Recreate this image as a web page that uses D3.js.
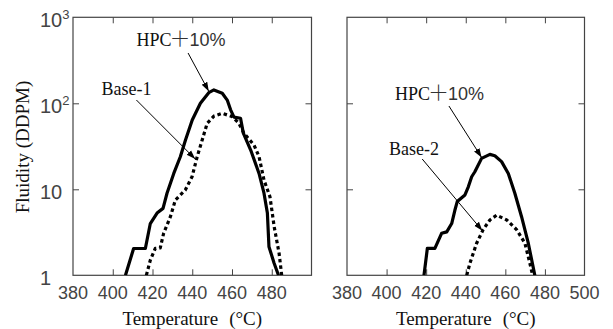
<!DOCTYPE html>
<html><head><meta charset="utf-8">
<script src="https://cdn.jsdelivr.net/npm/d3@7"></script>
<style>body{margin:0;background:#fff}svg{display:block}</style>
</head><body>
<svg id="c" width="613" height="329"></svg>
<script>
// Panel 1 (left): HPC+10% and Base-1
const hpc1T = [406.4,410.5,416.4,418.9,422.3,425.3,427.3,430.7,434,436.6,440,444.1,448.3,450.9,455.1,457.6,459.3,461,464.3,465.7,469.4,473.6,476.1,477.8,478.6,481.2,483.4];
const hpc1F = [1,2.05,2.05,4.0,5.3,6.0,9.0,15.3,23.9,37.4,64,100,133,143,131,109,84,69,67,45,28.6,15.3,9.0,5.3,2.15,1.38,1];
const base1T = [416.9,418.9,421.4,423.9,425.6,429,431.5,436.5,439.9,442.5,445,447.5,450.9,455.1,460.2,463.5,466,471.1,473.6,476.1,479.1,481.2,483.7,485];
const base1F = [1,1.5,2.06,2.08,3.08,4.8,7.5,9.8,14,24,37.4,58.5,71,76.5,69.8,58.5,44.8,32.7,24,12.8,8.2,3.7,1.8,1];
// Panel 2 (right): HPC+10% and Base-2
const hpc2T = [418.9,420.6,424.4,427.8,430.4,432.9,434.5,435.7,439.6,441.3,443,444.6,448,452.2,454.7,458.1,461.5,464.8,468.2,471.6,474.9];
const hpc2F = [1,2.06,2.06,3.08,3.2,4.0,5.7,7.2,8.6,10.7,14,16,22.9,25.5,24.6,21,15.3,9.0,4.8,2.36,1];
const base2T = [440.5,442.1,445.5,448.8,452.2,455.6,460.7,465.7,469.9,472.4,473.8];
const base2F = [1,1.38,2.36,3.4,4.4,5.0,4.4,3.4,2.36,1.38,1];

const xTicksLeft = [380,400,420,440,460,480];
const xTicksRight = [380,400,420,440,460,480,500];
const yTicks = [1,10,100,1000];
const yTickLabels = [["1",""],["10",""],["10","2"],["10","3"]];
const hpcLabel = "HPC";
const plusLabel = "＋";
const pctLabel = "10%";
const base1Label = "Base-1";
const base2Label = "Base-2";
const xTitle = "Temperature";
const xUnit = "(°C)";
const yTitle = "Fluidity (DDPM)";

const svg = d3.select("#c");
const top_ = 17.3, bottom = 275.3;
const y = d3.scaleLog().domain([1,1000]).range([bottom, top_]);

const defs = svg.append("defs");
defs.append("marker").attr("id","ah").attr("viewBox","0 0 10 10").attr("refX",10).attr("refY",5)
  .attr("markerWidth",9).attr("markerHeight",9).attr("markerUnits","userSpaceOnUse").attr("orient","auto")
  .append("path").attr("d","M0,1.5 L10,5 L0,8.5 Z").attr("fill","#000");

const sans = "'Liberation Sans', Arial, sans-serif";
const serif = "'Liberation Serif', 'Times New Roman', serif";

function panel(x0, x1, xTicks, series, showY, id){
  const x = d3.scaleLinear().domain([380,500]).range([x0,x1]);
  const g = svg.append("g");
  defs.append("clipPath").attr("id","clip"+id).append("rect")
    .attr("x",x0).attr("y",top_).attr("width",x1-x0).attr("height",bottom-top_);
  const inner = [400,420,440,460,480];
  const ax = g.append("g").attr("transform",`translate(0,${bottom})`)
    .call(d3.axisBottom(x).tickValues(inner).tickSize(-6).tickFormat(""));
  ax.select(".domain").remove();
  ax.selectAll("line").attr("stroke","#444");
  g.append("g").selectAll("text").data(xTicks).join("text")
    .attr("x",d=>x(d)).attr("y",298.5).attr("text-anchor","middle")
    .attr("font-family",sans).attr("font-size",18).attr("fill","#444")
    .text(d=>d);
  const at = g.append("g").attr("transform",`translate(0,${top_})`)
    .call(d3.axisTop(x).tickValues(inner).tickSize(-6).tickFormat(""));
  at.select(".domain").remove();
  at.selectAll("line").attr("stroke","#444");
  const al = g.append("g").attr("transform",`translate(${x0},0)`)
    .call(d3.axisLeft(y).tickValues([10,100]).tickSize(-6).tickFormat(""));
  al.select(".domain").remove(); al.selectAll("line").attr("stroke","#444");
  const ar = g.append("g").attr("transform",`translate(${x1},0)`)
    .call(d3.axisRight(y).tickValues([10,100]).tickSize(-6).tickFormat(""));
  ar.select(".domain").remove(); ar.selectAll("line").attr("stroke","#444");
  g.append("rect").attr("x",x0).attr("y",top_).attr("width",x1-x0).attr("height",bottom-top_)
    .attr("fill","none").attr("stroke","#444").attr("stroke-width",1.2);
  if(showY){
    const t = g.append("g").selectAll("text").data(yTicks).join("text")
      .attr("x",40).attr("y",d=>y(d)+10)
      .attr("font-family",sans).attr("font-size",20).attr("fill","#444");
    t.append("tspan").text((d,i)=>yTickLabels[i][0]);
    t.append("tspan").attr("font-size",13).attr("dy",-8).text((d,i)=>yTickLabels[i][1]);
  }
  const line = d3.line().x(d=>x(d[0])).y(d=>y(d[1]));
  const cg = g.append("g").attr("clip-path",`url(#clip${id})`);
  series.forEach(s=>{
    cg.append("path").datum(s.T.map((t,i)=>[t,s.F[i]]))
      .attr("d",line).attr("fill","none").attr("stroke","#000")
      .attr("stroke-width",3.2).attr("stroke-linejoin","round")
      .attr("stroke-dasharray",s.dash||null);
  });
  const tt = g.append("text").attr("x",(x0+x1)/2).attr("y",324.5).attr("text-anchor","middle")
    .attr("font-family",serif).attr("font-size",19).attr("fill","#111");
  tt.append("tspan").text(xTitle);
  tt.append("tspan").attr("dx",11).text(xUnit);
  return x;
}

const xl = panel(73,311.5,xTicksLeft,[
  {T:hpc1T,F:hpc1F},
  {T:base1T,F:base1F,dash:"3.5,3"}
],true,1);
const xr = panel(347,584.5,xTicksRight,[
  {T:hpc2T,F:hpc2F},
  {T:base2T,F:base2F,dash:"3.5,3"}
],false,2);

svg.append("text").attr("transform","translate(29,147) rotate(-90)").attr("text-anchor","middle")
  .attr("font-family",serif).attr("font-size",19).attr("fill","#111").text(yTitle);

function hpcText(xp, yp){
  const t = svg.append("text").attr("x",xp).attr("y",yp).attr("font-size",18).attr("fill","#111");
  t.append("tspan").attr("font-family",serif).text(hpcLabel);
  t.append("tspan").attr("font-family","'Noto Sans CJK JP', sans-serif").attr("font-weight",300)
    .attr("font-size",21).attr("fill","#333").attr("dx",-2).text(plusLabel);
  t.append("tspan").attr("font-family",sans).attr("fill","#333").attr("dx",-1).text(pctLabel);
}
function label(txt,xp,yp){
  svg.append("text").attr("x",xp).attr("y",yp).attr("font-family",serif).attr("font-size",18)
    .attr("fill","#111").text(txt);
}
function arrow(a,b,c,d){
  svg.append("line").attr("x1",a).attr("y1",b).attr("x2",c).attr("y2",d)
    .attr("stroke","#000").attr("stroke-width",1).attr("marker-end","url(#ah)");
}
hpcText(136.5,45.5);
arrow(xl(437.9),53,xl(448.3),y(138));
label(base1Label,101.5,95);
arrow(xl(411.9),100,xl(441.5),y(22.5));
hpcText(395,100);
arrow(xr(431.5),106,xr(448),y(23.5));
label(base2Label,389,155);
arrow(xr(418),159,xr(448.4),y(3.3));
</script>
</body></html>
